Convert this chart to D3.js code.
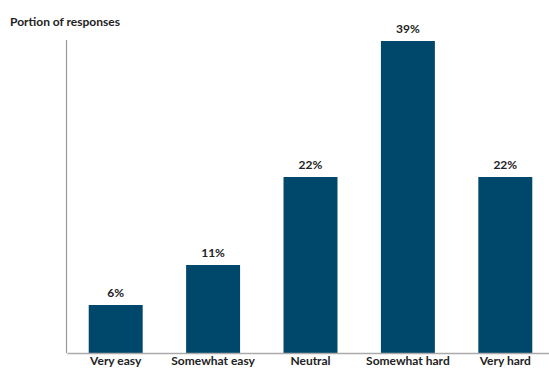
<!DOCTYPE html>
<html><head><meta charset="utf-8">
<script src="https://cdn.jsdelivr.net/npm/d3@7"></script>
<style>body{margin:0;background:#fff}svg{display:block}text{font-family:Lato,"Open Sans",sans-serif;font-weight:bold;fill:#222}</style>
</head><body>
<script>
const categories = ["Very easy","Somewhat easy","Neutral","Somewhat hard","Very hard"];
const values = [6,11,22,39,22];
const valueLabels = ["6%","11%","22%","39%","22%"];

const W=549,H=370;
const svg=d3.select("body").append("svg").attr("width",W).attr("height",H);
const x=d3.scaleBand().domain(categories).range([67,554]).paddingInner(0.446).paddingOuter(0.223);
const y=d3.scaleLinear().domain([0,39]).range([353,41]);

svg.selectAll("rect.bar").data(values).join("rect").attr("class","bar")
  .attr("x",(d,i)=>x(categories[i])).attr("width",x.bandwidth())
  .attr("y",d=>y(d)).attr("height",d=>y(0)-y(d)).attr("fill","#00476C");

svg.selectAll("text.val").data(values).join("text").attr("class","val")
  .attr("x",(d,i)=>x(categories[i])+x.bandwidth()/2).attr("y",d=>y(d)-8)
  .attr("text-anchor","middle").attr("font-size",12).text((d,i)=>valueLabels[i]);

// y axis line
svg.append("line").attr("x1",66.5).attr("x2",66.5).attr("y1",40).attr("y2",353).attr("stroke","#999").attr("stroke-width",1.2);
// x axis
const xa=svg.append("g").attr("transform","translate(0,353)").call(d3.axisBottom(x).tickSize(0).tickPadding(3));
xa.select(".domain").attr("stroke","#aaa").attr("stroke-width",1.5);
xa.selectAll("text").attr("font-size",12).attr("fill","#222").attr("font-family","Lato,sans-serif").attr("font-weight","bold");

svg.append("text").attr("x",10).attr("y",26).attr("font-size",12).text("Portion of responses");
</script>
</body></html>
